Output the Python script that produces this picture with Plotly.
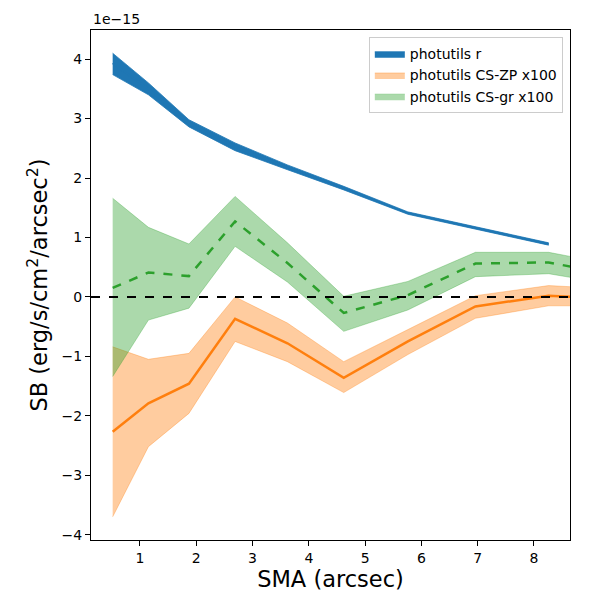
import plotly.graph_objects as go

# SMA radii (arcsec)
sma = [0.515, 1.15, 1.87, 2.69, 3.62, 4.62, 5.76, 6.96, 8.26, 9.7]

# surface brightness, in units of 1e-15 erg/s/cm2/arcsec2
r_mid = [3.93, 3.50, 2.92, 2.52, 2.18, 1.83, 1.41, 1.16, 0.89]
r_lo = [3.74, 3.40, 2.86, 2.46, 2.14, 1.80, 1.39, 1.14, 0.87]
r_hi = [4.10, 3.60, 2.98, 2.59, 2.22, 1.86, 1.43, 1.18, 0.91]

zp_mid = [-2.27, -1.79, -1.46, -0.37, -0.78, -1.36, -0.75, -0.16, 0.02, -0.05]
zp_lo = [-3.70, -2.52, -1.96, -0.75, -1.09, -1.61, -0.97, -0.36, -0.15, -0.15]
zp_hi = [-0.84, -1.05, -0.95, 0.00, -0.44, -1.09, -0.55, 0.02, 0.19, 0.12]

gr_mid = [0.15, 0.41, 0.35, 1.27, 0.57, -0.27, 0.03, 0.56, 0.58, 0.32]
gr_lo = [-1.34, -0.39, -0.19, 0.85, 0.25, -0.58, -0.22, 0.34, 0.39, 0.16]
gr_hi = [1.66, 1.17, 0.89, 1.69, 0.91, 0.01, 0.26, 0.75, 0.75, 0.49]

fig = go.Figure()

def band(x, lo, hi, fill, edge, name):
    fig.add_trace(go.Scatter(x=x, y=lo, mode="lines", line=dict(color=edge, width=0.8),
                             showlegend=False, hoverinfo="skip"))
    fig.add_trace(go.Scatter(x=x, y=hi, mode="lines", line=dict(color=edge, width=0.8),
                             fill="tonexty", fillcolor=fill, name=name))

band(sma[:len(r_mid)], r_lo, r_hi, "#1f77b4", "#1f77b4", "photutils r")
band(sma, zp_lo, zp_hi, "rgba(255,127,14,0.4)", "rgba(255,127,14,0.4)", "photutils CS-ZP x100")
band(sma, gr_lo, gr_hi, "rgba(44,160,44,0.4)", "rgba(44,160,44,0.4)", "photutils CS-gr x100")

fig.add_trace(go.Scatter(x=sma[:len(r_mid)], y=r_mid, mode="lines",
                         line=dict(color="#1f77b4", width=2), showlegend=False))
fig.add_trace(go.Scatter(x=sma, y=zp_mid, mode="lines",
                         line=dict(color="#ff7f0e", width=2.5), showlegend=False))
fig.add_trace(go.Scatter(x=sma, y=gr_mid, mode="lines",
                         line=dict(color="#2ca02c", width=2.5, dash="dash"), showlegend=False))

fig.add_hline(y=0, line=dict(color="black", width=2, dash="dash"))

axis_style = dict(showline=True, linecolor="black", linewidth=1, mirror=True,
                  ticks="outside", ticklen=5, tickcolor="black", showgrid=False,
                  zeroline=False, tickfont=dict(size=14, color="black"), automargin=False)

fig.update_xaxes(range=[0.13, 8.64], tickvals=[1, 2, 3, 4, 5, 6, 7, 8],
                 title=dict(text="SMA (arcsec)", font=dict(size=22.5, color="black"), standoff=6),
                 **axis_style)
fig.update_yaxes(range=[-4.09, 4.49], tickvals=[-4, -3, -2, -1, 0, 1, 2, 3, 4],
                 title=dict(text="SB (erg/s/cm<sup>2</sup>/arcsec<sup>2</sup>)",
                            font=dict(size=22.5, color="black"), standoff=7),
                 **axis_style)

fig.add_annotation(text="1e\u221215", xref="paper", yref="paper", x=0, y=1,
                   xanchor="left", yanchor="bottom", showarrow=False,
                   font=dict(size=14, color="black"), yshift=1)

fig.update_layout(
    width=600, height=600,
    margin=dict(l=83, r=38, t=22, b=68),
    plot_bgcolor="white", paper_bgcolor="white",
    font=dict(family="DejaVu Sans", color="black"),
    legend=dict(x=0.985, y=0.986, xanchor="right", yanchor="top", traceorder="normal",
                bordercolor="#cccccc", borderwidth=1, bgcolor="rgba(255,255,255,0.8)",
                font=dict(size=14)),
)

fig.write_html("out.html")
